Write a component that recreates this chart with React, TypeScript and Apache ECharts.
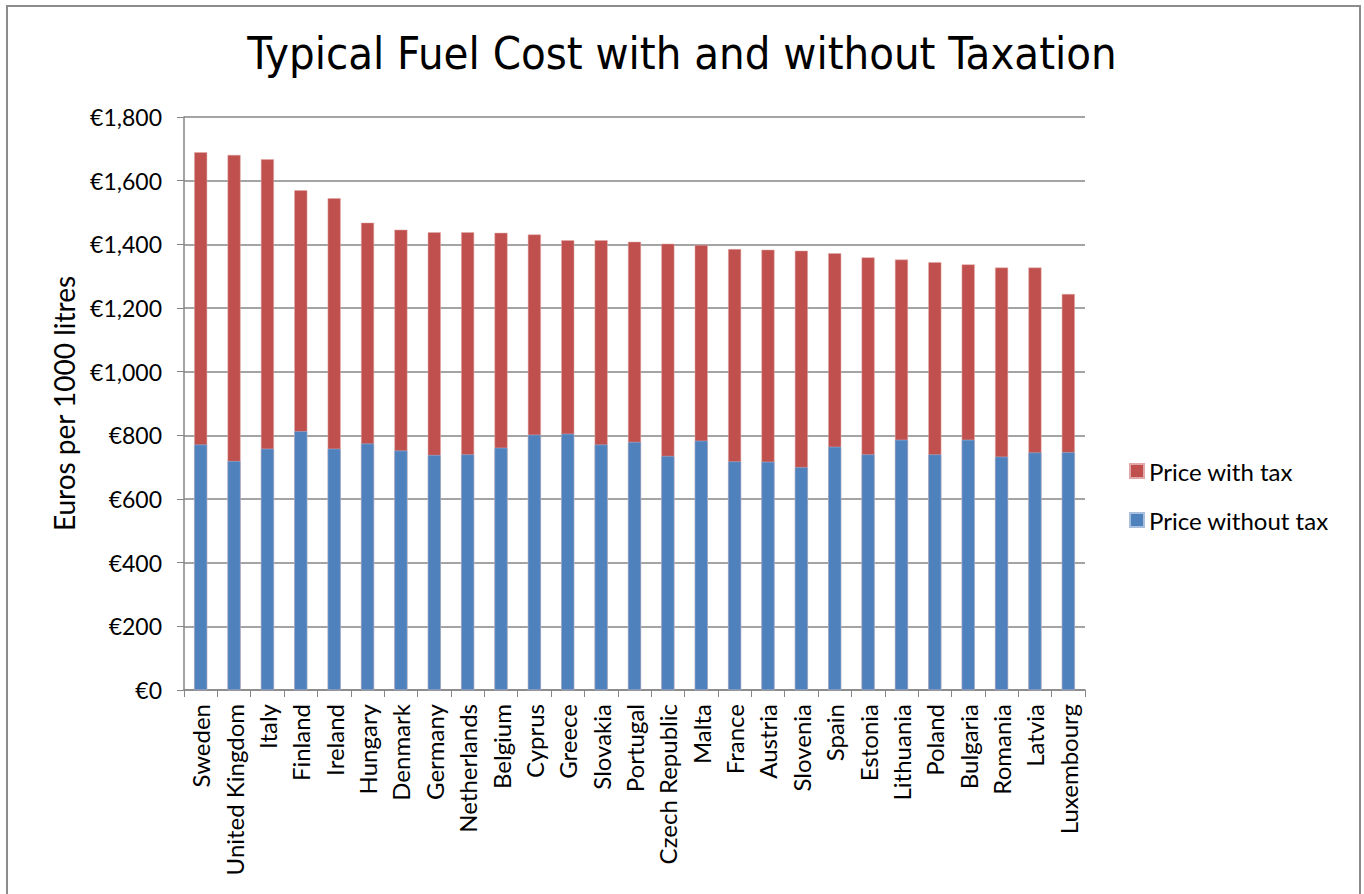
import React, { useEffect, useRef } from "react";
import * as echarts from "echarts";

const countries = [
  "Sweden", "United Kingdom", "Italy", "Finland", "Ireland", "Hungary", "Denmark",
  "Germany", "Netherlands", "Belgium", "Cyprus", "Greece", "Slovakia", "Portugal",
  "Czech Republic", "Malta", "France", "Austria", "Slovenia", "Spain", "Estonia",
  "Lithuania", "Poland", "Bulgaria", "Romania", "Latvia", "Luxembourg",
];

const priceWithTax = [
  1689, 1681, 1667, 1570, 1545, 1468, 1446, 1438, 1438, 1436, 1431, 1413, 1413, 1408,
  1402, 1398, 1385, 1383, 1380, 1372, 1359, 1352, 1344, 1337, 1327, 1327, 1244,
];

const priceWithoutTax = [
  771, 719, 758, 813, 758, 774, 752, 738, 740, 761, 802, 805, 771, 779,
  735, 783, 718, 717, 700, 764, 740, 786, 740, 786, 733, 746, 747,
];

const yTicks = { min: 0, max: 1800, interval: 200 };

const FONT = "Lato, 'Noto Sans', sans-serif";
const TITLE_FONT = "'Liberation Sans Narrow', 'DejaVu Sans Condensed', 'Noto Sans', sans-serif";

export default function App() {
  const ref = useRef<HTMLDivElement>(null);

  useEffect(() => {
    if (!ref.current) return;
    const chart = echarts.init(ref.current, null, { renderer: "svg" });
    const fmt = (v: number) => "€" + v.toLocaleString("en-US");
    chart.setOption({
      animation: false,
      backgroundColor: "#ffffff",
      title: {
        text: "Typical Fuel Cost with and without Taxation",
        left: "center",
        top: 26,
        textStyle: {
          fontFamily: TITLE_FONT,
          fontSize: 45,
          fontWeight: "normal",
          color: "#000",
        },
      },
      graphic: [
        {
          type: "rect",
          shape: { x: 7, y: 6, width: 1353, height: 900 },
          style: { fill: "none", stroke: "#8c8c8c", lineWidth: 2 },
          silent: true,
        },
      ],
      legend: {
        orient: "vertical",
        left: 1124,
        top: 454,
        itemWidth: 14,
        itemHeight: 14,
        itemGap: 25,
        icon: "rect",
        textStyle: { fontFamily: FONT, fontSize: 24, color: "#000" },
        data: ["Price with tax", "Price without tax"],
      },
      grid: { left: 184, right: 279, top: 117, bottom: 204 },
      xAxis: {
        type: "category",
        data: countries,
        axisLine: { lineStyle: { color: "#868686", width: 1.5 } },
        axisTick: { show: true, length: 7, lineStyle: { color: "#868686" } },
        axisLabel: {
          rotate: 90,
          interval: 0,
          margin: 14,
          fontFamily: FONT,
          fontSize: 24,
          color: "#000",
        },
      },
      yAxis: {
        type: "value",
        min: yTicks.min,
        max: yTicks.max,
        interval: yTicks.interval,
        name: "Euros per 1000 litres",
        nameLocation: "middle",
        nameGap: 106,
        nameTextStyle: { fontFamily: FONT, fontSize: 28, color: "#000" },
        axisLine: { show: true, lineStyle: { color: "#868686", width: 1.5 } },
        axisTick: { show: true, length: 7, lineStyle: { color: "#868686" } },
        axisLabel: {
          margin: 22,
          formatter: fmt,
          fontFamily: FONT,
          fontSize: 23,
          color: "#000",
        },
        splitLine: { lineStyle: { color: "#868686", width: 1.5 } },
      },
      series: [
        {
          name: "Price with tax",
          type: "bar",
          data: priceWithTax,
          barWidth: 13,
          barGap: "-100%",
          itemStyle: { color: "#C0504D", borderColor: "#e0a8a6", borderWidth: 0.5 },
        },
        {
          name: "Price without tax",
          type: "bar",
          data: priceWithoutTax,
          barWidth: 13,
          barGap: "-100%",
          itemStyle: { color: "#4F81BD", borderColor: "#a8c0de", borderWidth: 0.5 },
        },
      ],
    });
    return () => chart.dispose();
  }, []);

  return (
    <div
      ref={ref}
      style={{ position: "absolute", left: 0, top: 0, width: 1364, height: 894 }}
    />
  );
}
